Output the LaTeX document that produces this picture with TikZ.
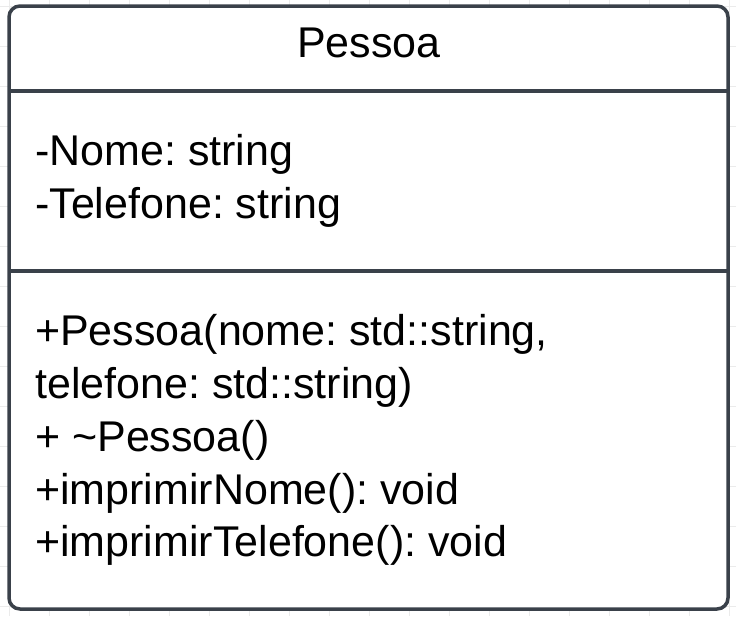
\documentclass[tikz,border=0pt]{standalone}
\usepackage{fontspec}
\setmainfont{Liberation Sans}
\frenchspacing
\definecolor{strokec}{HTML}{3A414A}
\definecolor{gridc}{HTML}{EBEBEB}
\begin{document}
\begin{tikzpicture}[x=1pt,y=-1pt,
  umltext/.style={anchor=base west, inner sep=0pt, text=black, font=\fontsize{43}{52}\selectfont},
  umltitle/.style={anchor=base, inner sep=0pt, text=black, font=\fontsize{43}{52}\selectfont},
  classbox/.style={draw=strokec, line width=3.5pt, fill=white, rounded corners=11pt, inner sep=0pt},
  sepline/.style={draw=strokec, line width=3.5pt}]
\useasboundingbox (0,0) rectangle (736,616);
% background grid
\foreach \gx in {9,49,...,729} \draw[gridc, line width=0.8pt] (\gx,0) -- (\gx,616);
\foreach \gy in {6,46,...,606} \draw[gridc, line width=0.8pt] (0,\gy) -- (736,\gy);
% class box
\node[classbox, minimum width=719pt, minimum height=603pt] (box) at (368.5,307.5) {};
\coordinate (s1) at (9,91);
\coordinate (s2) at (9,271);
\draw[sepline] (s1) -- (s1 -| box.east);
\draw[sepline] (s2) -- (s2 -| box.east);
% texts
\node[umltitle] (title) at (369,57.5) {Pessoa};
\node[umltext] (a1) at (35,165) {-Nome: string};
\node[umltext] (a2) at (35,218) {-Telefone: string};
\node[umltext] (m1) at (35,345) {+Pessoa(nome: std::string,};
\node[umltext] (m2) at (35,398.5) {telefone: std::string)};
\node[umltext] (m3) at (35,451.5) {+ \textasciitilde Pessoa()};
\node[umltext] (m4) at (35,504) {+imprimirNome(): void};
\node[umltext] (m5) at (35,556.5) {+imprimirTelefone(): void};
\end{tikzpicture}
\end{document}
